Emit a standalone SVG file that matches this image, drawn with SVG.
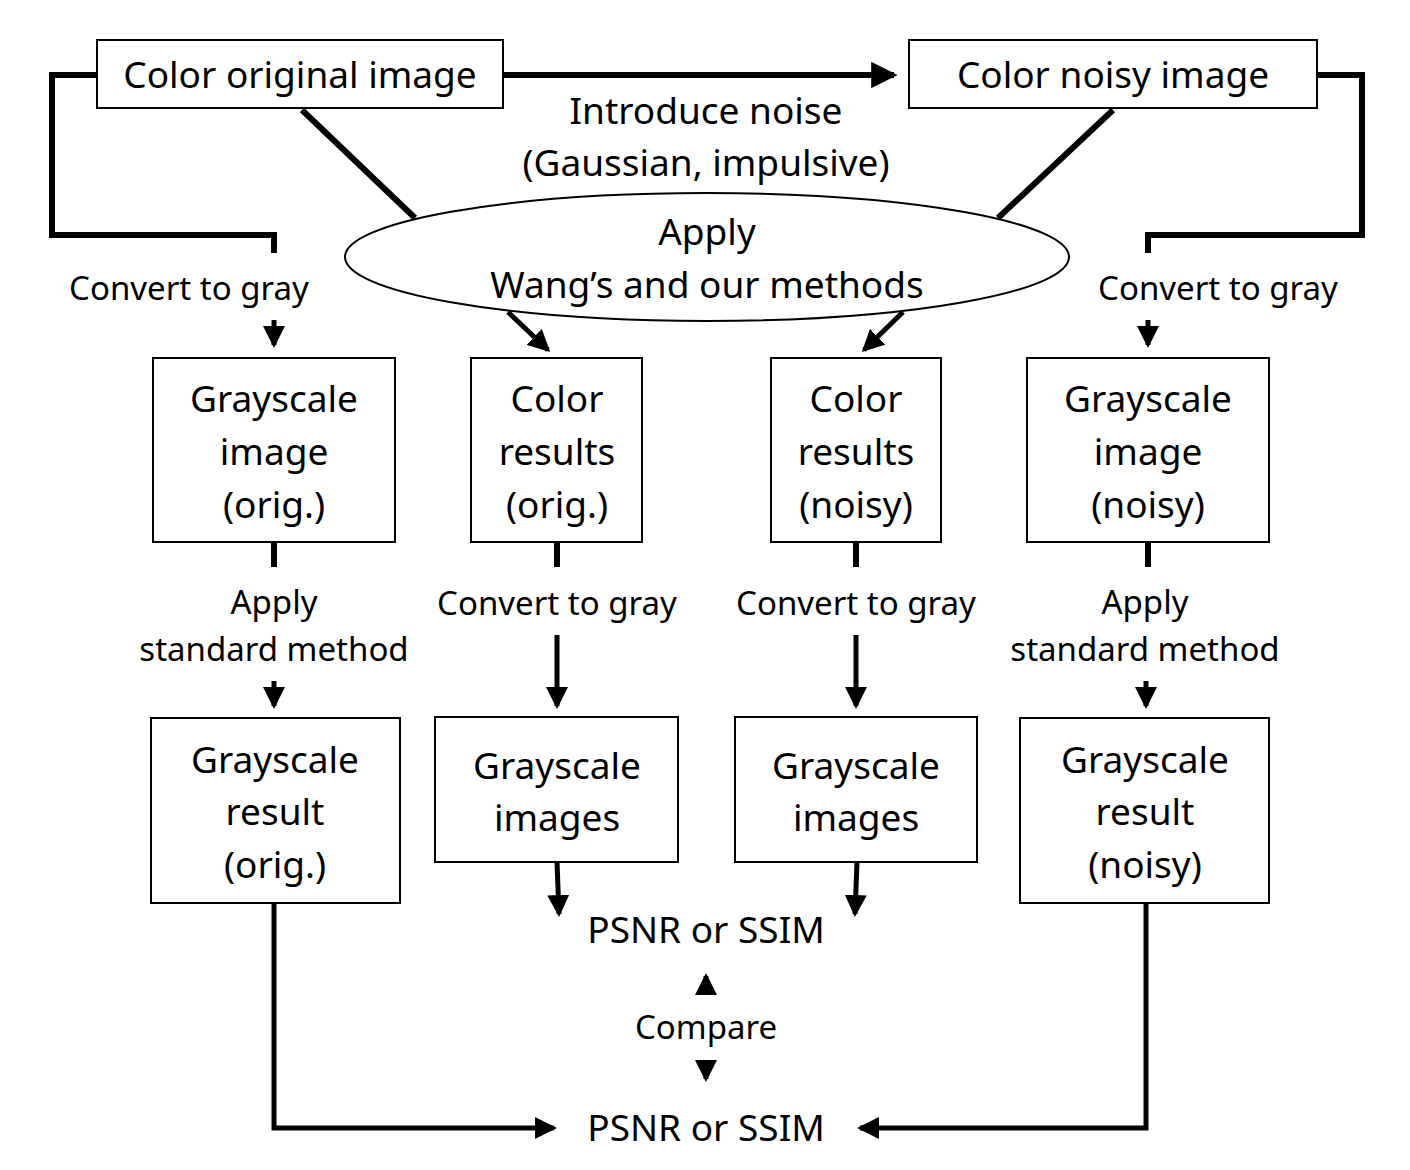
<svg xmlns="http://www.w3.org/2000/svg" width="1410" height="1170" viewBox="0 0 1410 1170">
<defs>
<style>
.box{fill:#fff;stroke:#000;stroke-width:2}
.t{font-family:"Noto Sans","Open Sans",sans-serif;font-size:37px;fill:#000;text-anchor:middle}
.s{font-family:"Noto Sans","Open Sans",sans-serif;font-size:33px;fill:#000;text-anchor:middle}
.c{fill:none;stroke:#000;stroke-width:6}
.a{fill:none;stroke:#000;stroke-width:5}
</style>
<marker id="ah" markerWidth="4.4" markerHeight="4.4" refX="3.8" refY="2.2" orient="auto" markerUnits="strokeWidth">
<path d="M0,0 L4.4,2.2 L0,4.4 Z" fill="#000"/>
</marker>
</defs>
<rect width="1410" height="1170" fill="#fff"/>
<g id="connectors">
<path class="c" d="M503,75 H894" marker-end="url(#ah)"/>
<path class="c" d="M97,75 H52 V235 H274 V253"/>
<path class="c" d="M1317,75 H1362 V235 H1148 V253"/>
<path class="c" d="M302,110 L415,218"/>
<path class="c" d="M1113,110 L998,218"/>
<path class="a" d="M274,320 V345" marker-end="url(#ah)"/>
<path class="a" d="M1148,320 V345" marker-end="url(#ah)"/>
<path class="a" d="M508,312 L548,350" marker-end="url(#ah)"/>
<path class="a" d="M903,312 L864,350" marker-end="url(#ah)"/>
<path class="c" d="M274,542 V567"/>
<path class="c" d="M557,542 V567"/>
<path class="c" d="M856,542 V567"/>
<path class="c" d="M1148,542 V567"/>
<path class="a" d="M274,681 V706" marker-end="url(#ah)"/>
<path class="a" d="M557,635 V706" marker-end="url(#ah)"/>
<path class="a" d="M856,635 V706" marker-end="url(#ah)"/>
<path class="a" d="M1146,681 V706" marker-end="url(#ah)"/>
<path class="a" d="M557,862 L559,914" marker-end="url(#ah)"/>
<path class="a" d="M857,862 L855,914" marker-end="url(#ah)"/>
<path class="a" d="M706,995 V976" marker-end="url(#ah)"/>
<path class="a" d="M706,1061 V1079" marker-end="url(#ah)"/>
<path class="a" d="M274,903 V1128 H554" marker-end="url(#ah)"/>
<path class="a" d="M1146,903 V1128 H860" marker-end="url(#ah)"/>
</g>
<g id="n-color-orig">
<rect class="box" x="97" y="40" width="406" height="68"/>
<text class="t" x="300" y="88">Color original image</text>
</g>
<g id="n-color-noisy">
<rect class="box" x="909" y="40" width="408" height="68"/>
<text class="t" x="1113" y="88">Color noisy image</text>
</g>
<g id="l-noise">
<text class="t" x="706" y="124">Introduce noise</text>
<text class="t" x="706" y="176">(Gaussian, impulsive)</text>
</g>
<g id="n-apply">
<ellipse cx="707" cy="257" rx="362" ry="64" fill="#fff" stroke="#000" stroke-width="2"/>
<text class="t" x="707" y="245">Apply</text>
<text class="t" x="707" y="298">Wang’s and our methods</text>
</g>
<g id="l-conv-left"><text class="s" x="189" y="300">Convert to gray</text></g>
<g id="l-conv-right"><text class="s" x="1218" y="300">Convert to gray</text></g>
<g id="n-gray-orig">
<rect class="box" x="153" y="358" width="242" height="184"/>
<text class="t" x="274" y="412">Grayscale</text>
<text class="t" x="274" y="465">image</text>
<text class="t" x="274" y="518">(orig.)</text>
</g>
<g id="n-colres-orig">
<rect class="box" x="471" y="358" width="171" height="184"/>
<text class="t" x="557" y="412">Color</text>
<text class="t" x="557" y="465">results</text>
<text class="t" x="557" y="518">(orig.)</text>
</g>
<g id="n-colres-noisy">
<rect class="box" x="771" y="358" width="170" height="184"/>
<text class="t" x="856" y="412">Color</text>
<text class="t" x="856" y="465">results</text>
<text class="t" x="856" y="518">(noisy)</text>
</g>
<g id="n-gray-noisy">
<rect class="box" x="1027" y="358" width="242" height="184"/>
<text class="t" x="1148" y="412">Grayscale</text>
<text class="t" x="1148" y="465">image</text>
<text class="t" x="1148" y="518">(noisy)</text>
</g>
<g id="l-std-left">
<text class="s" x="274" y="614">Apply</text>
<text class="s" x="274" y="661">standard method</text>
</g>
<g id="l-conv-mid1"><text class="s" x="557" y="615">Convert to gray</text></g>
<g id="l-conv-mid2"><text class="s" x="856" y="615">Convert to gray</text></g>
<g id="l-std-right">
<text class="s" x="1145" y="614">Apply</text>
<text class="s" x="1145" y="661">standard method</text>
</g>
<g id="n-grayres-orig">
<rect class="box" x="151" y="718" width="249" height="185"/>
<text class="t" x="275" y="773">Grayscale</text>
<text class="t" x="275" y="825">result</text>
<text class="t" x="275" y="878">(orig.)</text>
</g>
<g id="n-grayimgs-1">
<rect class="box" x="435" y="717" width="243" height="145"/>
<text class="t" x="557" y="779">Grayscale</text>
<text class="t" x="557" y="831">images</text>
</g>
<g id="n-grayimgs-2">
<rect class="box" x="735" y="717" width="242" height="145"/>
<text class="t" x="856" y="779">Grayscale</text>
<text class="t" x="856" y="831">images</text>
</g>
<g id="n-grayres-noisy">
<rect class="box" x="1020" y="718" width="249" height="185"/>
<text class="t" x="1145" y="773">Grayscale</text>
<text class="t" x="1145" y="825">result</text>
<text class="t" x="1145" y="878">(noisy)</text>
</g>
<g id="n-psnr-top"><text class="t" x="706" y="943">PSNR or SSIM</text></g>
<g id="l-compare"><text class="s" x="706" y="1039">Compare</text></g>
<g id="n-psnr-bottom"><text class="t" x="706" y="1141">PSNR or SSIM</text></g>
</svg>
